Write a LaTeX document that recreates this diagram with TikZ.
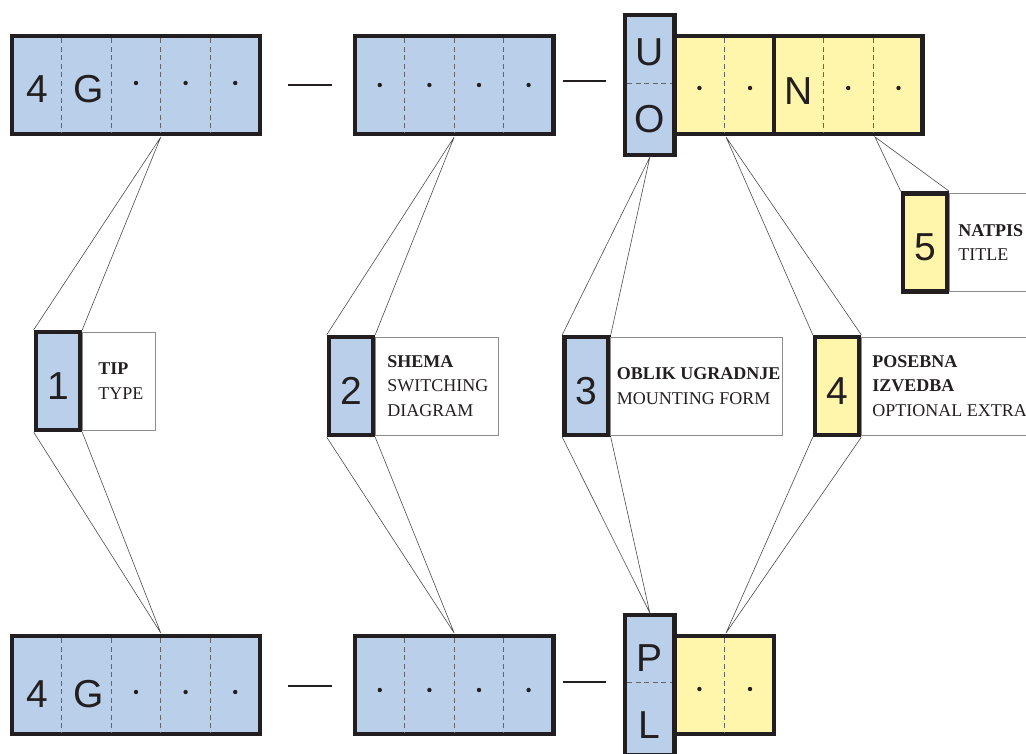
\documentclass[tikz,border=0pt]{standalone}
\usepackage{fontspec}
\setmainfont{Liberation Serif}
\newfontfamily\codefont{Liberation Sans}
\usetikzlibrary{positioning}

\definecolor{codeblue}{RGB}{186,208,234}
\definecolor{codeyellow}{RGB}{255,246,171}
\definecolor{ink}{RGB}{35,31,32}

\tikzset{
  codebox/.style={draw=ink, line width=4.5pt, minimum height=98pt, inner sep=0pt},
  bluebox/.style={codebox, fill=codeblue},
  yellowbox/.style={codebox, fill=codeyellow},
  cellsep/.style={draw=black!60, line width=0.7pt, dash pattern=on 5pt off 3.5pt},
  letter/.style={font=\codefont\fontsize{39}{39}\selectfont, text=ink, anchor=base, inner sep=0pt},
  keybox/.style={codebox, minimum width=44pt, font=\codefont\fontsize{39}{39}\selectfont,
    text=ink, text height=36pt, text depth=0pt},
  labbox/.style={draw=black!45, line width=0.8pt, minimum height=98pt, anchor=west, outer sep=0pt},
  labtxt/.style={anchor=west, align=left, inner sep=0pt, text=ink, font=\fontsize{18}{24.5}\selectfont},
  leader/.style={draw=black!70, line width=0.6pt},
  hyph/.style={draw=ink, line width=2pt}
}

\begin{document}
\begin{tikzpicture}[x=1pt, y=-1pt]
\useasboundingbox (0,0) rectangle (1026,753);
\clip (0,0) rectangle (1026,753);

% top code
\node[bluebox, minimum width=248pt] (top1) at (136,85) {};
\node[bluebox, minimum width=198.4pt] (top2) at (454.2,85) {};
\node[yellowbox, minimum width=99.2pt] (topA) at (724.2,85) {};
\node[yellowbox, minimum width=148.8pt] (topB) at (848.2,85) {};
\node[bluebox, minimum width=49.6pt, minimum height=140pt] (uo) at (649.8,85) {};

\foreach \x in {61.6,111.2,160.8,210.4,404.6,454.2,503.8,724.2,823.4,873}
  \draw[cellsep] (\x,38) -- (\x,132);
\draw[cellsep] (627,83) -- (672,83);

\node[letter] (t4) at (37,102) {4};
\node[letter] (tG) at (89,102) {G};
\node[letter] (tU) at (649.8,65) {U};
\node[letter] (tO) at (649.8,132) {O};
\node[letter] (tN) at (798.6,104) {N};
\foreach \x in {136,185.6,235.2}
  \fill[ink] (\x,83) circle (2.2pt);
\foreach \x in {379.8,429.4,479,528.6}
  \fill[ink] (\x,85) circle (2.2pt);
\foreach \x in {699.4,750,848.2,898.5}
  \fill[ink] (\x,88) circle (2.2pt);

\draw[hyph] (288,85) -- (332,85);
\draw[hyph] (563,81) -- (606,81);

% bottom code
\node[bluebox, minimum width=248pt] (bot1) at (136,685) {};
\node[bluebox, minimum width=198.4pt] (bot2) at (454.2,685) {};
\node[yellowbox, minimum width=99.2pt] (botA) at (724.2,685) {};
\node[bluebox, minimum width=49.6pt, minimum height=140pt] (pl) at (649.8,685) {};

\foreach \x in {61.6,111.2,160.8,210.4,404.6,454.2,503.8,724.2}
  \draw[cellsep] (\x,638) -- (\x,732);
\draw[cellsep] (627,682) -- (672,682);

\node[letter] (b4) at (37,707) {4};
\node[letter] (bG) at (89,707) {G};
\node[letter] (bP) at (649.8,671) {P};
\node[letter] (bL) at (649.8,738) {L};
\foreach \x in {136,185.6,235.2}
  \fill[ink] (\x,692) circle (2.2pt);
\foreach \x in {379.8,429.4,479,528.6}
  \fill[ink] (\x,690) circle (2.2pt);
\foreach \x in {699.4,750}
  \fill[ink] (\x,689) circle (2.2pt);

\draw[hyph] (288,686) -- (332,686);
\draw[hyph] (563,682) -- (606,682);

% keys
\node[keybox, fill=codeblue] (key1) at (58,381) {1};
\node[keybox, fill=codeblue] (key2) at (351,386) {2};
\node[keybox, fill=codeblue] (key3) at (586.5,386) {3};
\node[keybox, fill=codeyellow] (key4) at (837,386) {4};
\node[keybox, fill=codeyellow] (key5) at (925,242.5) {5};

\node[labbox, minimum width=73pt] (lab1) at (key1.east) {};
\node[labbox, minimum width=123pt] (lab2) at (key2.east) {};
\node[labbox, minimum width=172pt] (lab3) at (key3.east) {};
\node[labbox, minimum width=200pt] (lab4) at (key4.east) {};
\node[labbox, minimum width=150pt] (lab5) at (key5.east) {};

\node[labtxt] (txt1) at ([xshift=16pt]lab1.west) {\textbf{TIP}\\TYPE};
\node[labtxt] (txt2) at ([xshift=12pt]lab2.west) {\textbf{SHEMA}\\SWITCHING\\DIAGRAM};
\node[labtxt] (txt3) at ([xshift=6pt]lab3.west) {\textbf{OBLIK UGRADNJE}\\MOUNTING FORM};
\node[labtxt] (txt4) at ([xshift=11pt]lab4.west) {\textbf{POSEBNA}\\\textbf{IZVEDBA}\\OPTIONAL EXTRA};
\node[labtxt] (txt5) at ([xshift=9pt]lab5.west) {\textbf{NATPIS}\\TITLE};

% leaders
\coordinate (c1) at (160.8,137);
\coordinate (d1) at (160.8,633);
\coordinate (c2) at (454.2,137);
\coordinate (d2) at (454.2,633);
\coordinate (c4) at (726,137);
\coordinate (d4) at (726,633);
\coordinate (c5) at (875,137);

\draw[leader] (key1.north west) -- (c1) -- (key1.north east);
\draw[leader] (key1.south west) -- (d1) -- (key1.south east);
\draw[leader] (key2.north west) -- (c2) -- (key2.north east);
\draw[leader] (key2.south west) -- (d2) -- (key2.south east);
\draw[leader] (key3.north west) -- (uo.south) -- (key3.north east);
\draw[leader] (key3.south west) -- (pl.north) -- (key3.south east);
\draw[leader] (key4.north west) -- (c4) -- (key4.north east);
\draw[leader] (key4.south west) -- (d4) -- (key4.south east);
\draw[leader] (key5.north west) -- (c5) -- (key5.north east);

\end{tikzpicture}
\end{document}
